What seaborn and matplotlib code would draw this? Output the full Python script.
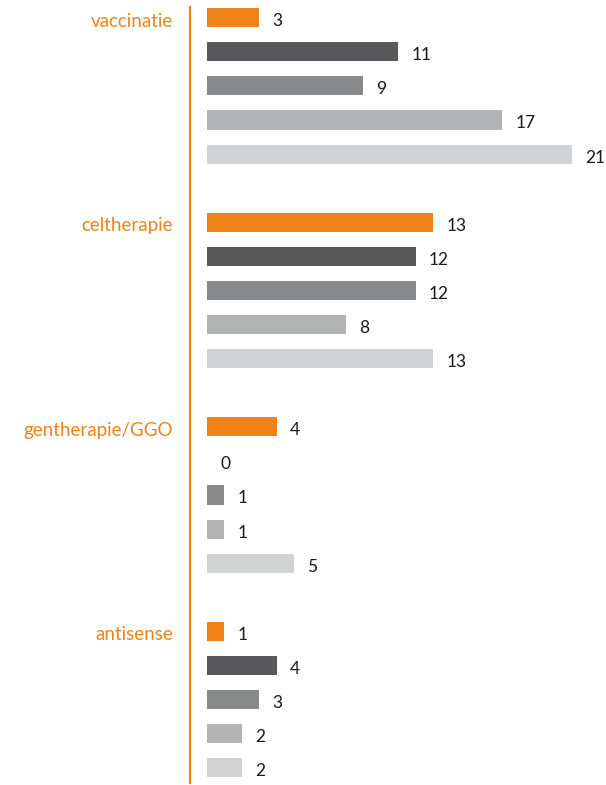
import pandas as pd
import matplotlib.pyplot as plt
import seaborn as sns

CATEGORIES = ['vaccinatie', 'celtherapie', 'gentherapie/GGO', 'antisense']
SERIES = ['reeks 1', 'reeks 2', 'reeks 3', 'reeks 4', 'reeks 5']
VALUES = [
    [3, 11, 9, 17, 21],
    [13, 12, 12, 8, 13],
    [4, 0, 1, 1, 5],
    [1, 4, 3, 2, 2],
]
COLORS = ['#EF8219', '#58585A', '#87888A', '#B2B3B5', '#D1D2D4']
ORANGE = '#EF8219'

rows = []
for cat, vals in zip(CATEGORIES, VALUES):
    for s, v in zip(SERIES, vals):
        rows.append({'categorie': cat, 'reeks': s, 'aantal': v})
df = pd.DataFrame(rows)

sns.set_theme(style='white')
plt.rcParams['font.family'] = ['Lato', 'DejaVu Sans']

fig = plt.figure(figsize=(6.06, 7.85), dpi=100)
ax = fig.add_axes([207 / 606, 0, 399 / 606, 1])

WIDTH = 5 / 6
sns.barplot(data=df, x='aantal', y='categorie', hue='reeks', orient='h',
            palette=COLORS, saturation=1, width=WIDTH, gap=0.44, dodge=True,
            linewidth=0, legend=False, ax=ax)

px_per_unit = 17.38
ax.set_xlim(0, 399 / px_per_unit)
ax.set_ylim(3.418, -0.420)

# value labels, a bit below bar centre like the original
for container, s in zip(ax.containers, SERIES):
    for bar in container.patches:
        w = bar.get_width()
        yc = bar.get_y() + bar.get_height() / 2
        ax.annotate(f'{w:.0f}', xy=(w, yc), xytext=(9.5, -2.5),
                    textcoords='offset points', ha='left', va='center',
                    fontsize=12.5, color='#1a1a1a')

# category labels in orange, aligned with first bar of each group
first_offset = -WIDTH / 2 + WIDTH / 10
for i, cat in enumerate(CATEGORIES):
    ax.annotate(cat, xy=(0, i + first_offset), xytext=(-24.5, -2.5),
                textcoords='offset points', ha='right', va='center',
                fontsize=13.5, color=ORANGE)

ax.set_yticks([])
ax.set_xticks([])
ax.set_xlabel('')
ax.set_ylabel('')
for side in ['top', 'right', 'bottom']:
    ax.spines[side].set_visible(False)
ax.spines['left'].set_position(('outward', 12.2))
ax.spines['left'].set_color(ORANGE)
ax.spines['left'].set_linewidth(1.6)
ax.spines['left'].set_bounds(-0.385, 3.41)

fig.savefig('out.png', dpi=100)
